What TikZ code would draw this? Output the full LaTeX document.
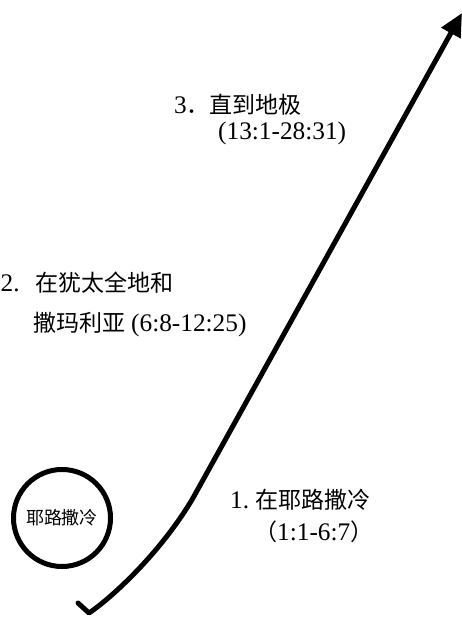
\documentclass[tikz,border=0pt]{standalone}
\usepackage{fontspec}
\setmainfont{Liberation Serif}[Scale=1.1]
\newfontfamily\cjk{Noto Sans CJK SC}
\usetikzlibrary{arrows.meta}
\tikzset{
  lbl/.style={anchor=west, inner sep=0pt, font=\fontsize{23}{27}\selectfont},
  ring/.style={draw=black, line width=5pt, circle, minimum size=97pt, inner sep=0pt, font=\fontsize{18}{21}\selectfont},
  route/.style={draw=black, line width=5pt, line cap=round, line join=round, -{Triangle[length=23pt,width=21pt]}}
}
\begin{document}
\begin{tikzpicture}[x=1pt,y=1pt]
\useasboundingbox[fill=white] (0,0) rectangle (462,619);
% Jerusalem circle
\node[ring] (jer) at (62,101) {\cjk 耶路撒冷};
% route coordinates
\coordinate (hookA) at (78,16);
\coordinate (hookB) at (89,6);
\coordinate (mid) at (193,121);
\coordinate (tip) at (462,606);
\draw[route] (hookA) -- (hookB) .. controls (110,20) and (160,65) .. (mid) -- (tip);
% labels
\node[lbl] (t3a) at (174,514) {3{\cjk ．直到地极}};
\node[lbl] (t3b) at (218,486) {(13:1-28:31)};
\node[lbl] (t2a) at (0.5,336) {2.\hspace{16pt}{\cjk 在犹太全地和}};
\node[lbl] (t2b) at (33,294) {{\cjk 撒玛利亚}\hspace{6pt}(6:8-12:25)};
\node[lbl] (t1a) at (230,119) {1.\hspace{6pt}{\cjk 在耶路撒冷}};
\node[lbl] (t1b) at (254,87) {{\cjk （}1:1-6:7{\cjk ）}};
\end{tikzpicture}
\end{document}
